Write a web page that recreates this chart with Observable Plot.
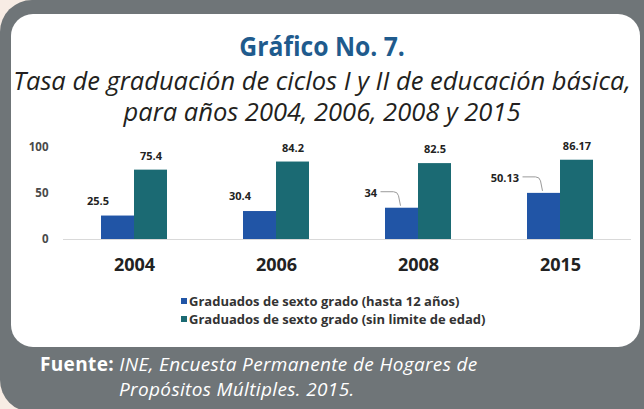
<!DOCTYPE html>
<html>
<head>
<meta charset="utf-8">
<script src="https://cdn.jsdelivr.net/npm/d3@7"></script>
<script src="https://cdn.jsdelivr.net/npm/@observablehq/plot@0.6"></script>
<style>
  html, body { margin: 0; padding: 0; width: 644px; height: 409px; overflow: hidden; background: #f7ece4; font-family: "Open Sans", sans-serif; }
  #gray { position: absolute; left: 0; top: 0; width: 700px; height: 412px; background: #6f7578; border-radius: 32px; }
  #panel { position: absolute; left: 11px; top: 14px; width: 629px; height: 333px; background: #fff; border-radius: 22px; }
  .title { position: absolute; left: 0; width: 644px; text-align: center; white-space: nowrap; }
  .title span { display: inline-block; }
  #t1 { top: 28px; font-size: 26px; font-weight: 700; color: #1f5b8d; }
  #t1 span { transform: scaleX(0.95); }
  .sub { font-size: 25.5px; font-style: italic; color: #231f20; font-weight: 500; }
  #t2 { top: 63px; }
  #t3 { top: 94px; }
  #chart { position: absolute; left: 0; top: 130px; }
  #legend { position: absolute; left: 181px; top: 292px; font-size: 13px; font-weight: 700; color: #333; }
  .row { display: flex; align-items: center; height: 18px; }
  .sw { width: 6px; height: 6px; margin-right: 2px; }
  .fu { position: absolute; font-size: 19px; letter-spacing: 0.35px; color: #fff; line-height: 22px; white-space: nowrap; }
  #fu1 { left: 40px; top: 353px; }
  #fu2 { left: 119px; top: 378px; }
  .fu b { font-weight: 700; }
  .fu i { font-style: italic; }
</style>
</head>
<body>
<div id="gray"></div>
<div id="panel"></div>
<div class="title" id="t1"><span>Gráfico No. 7.</span></div>
<div class="title sub" id="t2"><span>Tasa de graduación de ciclos I y II de educación básica,</span></div>
<div class="title sub" id="t3"><span>para años 2004, 2006, 2008 y 2015</span></div>
<div id="chart"></div>
<div id="legend"></div>
<div class="fu" id="fu1"><b>Fuente:</b> <i>INE, Encuesta Permanente de Hogares de</i></div>
<div class="fu" id="fu2"><i>Propósitos Múltiples. 2015.</i></div>
<script>
const years = ["2004", "2006", "2008", "2015"];
const series = ["Graduados de sexto grado (hasta 12 años)", "Graduados de sexto grado (sin limite de edad)"];
const hasta12 = [25.5, 30.4, 34, 50.13];
const sinLimite = [75.4, 84.2, 82.5, 86.17];
const hasta12Labels = ["25.5", "30.4", "34", "50.13"];
const sinLimiteLabels = ["75.4", "84.2", "82.5", "86.17"];
const leaderYears = ["2008", "2015"];
const colors = ["#2155a6", "#1b6a73"];

const rows = [];
years.forEach((y, i) => {
  rows.push({year: y, series: series[0], value: hasta12[i], label: hasta12Labels[i], leader: leaderYears.includes(y)});
  rows.push({year: y, series: series[1], value: sinLimite[i], label: sinLimiteLabels[i], leader: false});
});
const blueNoLeader = rows.filter(d => d.series === series[0] && !d.leader);
const blueLeader = rows.filter(d => d.series === series[0] && d.leader);
const teal = rows.filter(d => d.series === series[1]);

const leaderMark = Plot.dot(blueLeader, {
  fx: "year", x: "series", y: "value",
  render: (index, scales, values, dimensions, context) => {
    const g = d3.create("svg:g");
    const bw = scales.x.bandwidth ? scales.x.bandwidth() : 0;
    for (const i of index) {
      const d = blueLeader[i];
      const cx = scales.x(d.series) + bw / 2;
      const yb = scales.y(d.value);
      const ty = yb - 16;
      g.append("path")
        .attr("d", `M${cx - 21},${ty} H${cx - 8} Q${cx - 4},${ty} ${cx - 3},${ty + 4} L${cx - 1},${yb - 2}`)
        .attr("fill", "none")
        .attr("stroke", "#9a9a9a")
        .attr("stroke-width", 1);
    }
    return g.node();
  }
});

const chart = Plot.plot({
  width: 644,
  height: 150,
  marginLeft: 63,
  marginRight: 13,
  marginTop: 17,
  marginBottom: 41,
  style: {background: "transparent", fontFamily: "Open Sans, sans-serif"},
  fx: {domain: years, padding: 0, label: null, axis: "bottom", tickSize: 0, tickPadding: 19},
  x: {domain: series, paddingInner: 0, paddingOuter: 1.12, axis: null},
  y: {domain: [0, 100], ticks: [0, 50, 100], tickSize: 0, tickPadding: 15, label: null, grid: false},
  color: {domain: series, range: colors},
  marks: [
    Plot.ruleY([0], {stroke: "#d9d9d9", strokeWidth: 1}),
    Plot.barY(rows, {fx: "year", x: "series", y: "value", fill: "series"}),
    Plot.text(teal, {fx: "year", x: "series", y: "value", text: "label", dy: -14, fontWeight: 700, fontSize: 11, fill: "#222"}),
    Plot.text(blueNoLeader, {fx: "year", x: "series", y: "value", text: "label", dx: -20, dy: -15, fontWeight: 700, fontSize: 11, fill: "#222"}),
    Plot.text(blueLeader, {fx: "year", x: "series", y: "value", text: "label", dx: -25, dy: -15, textAnchor: "end", fontWeight: 700, fontSize: 11, fill: "#222"}),
    leaderMark
  ]
});
const svg = d3.select(chart);
svg.selectAll('[aria-label="fx-axis tick label"] text, [aria-label="fx-axis tick label"]').style("font-size", "18px").style("font-weight", "700").style("fill", "#222");
svg.selectAll('[aria-label="y-axis tick label"]').style("font-size", "11.5px").style("font-weight", "700").style("fill", "#4a4a4a");
document.getElementById("chart").appendChild(chart);

const legend = d3.select("#legend");
series.forEach((s, i) => {
  const r = legend.append("div").attr("class", "row");
  r.append("div").attr("class", "sw").style("background", colors[i]);
  r.append("span").text(s);
});
</script>
</body>
</html>
